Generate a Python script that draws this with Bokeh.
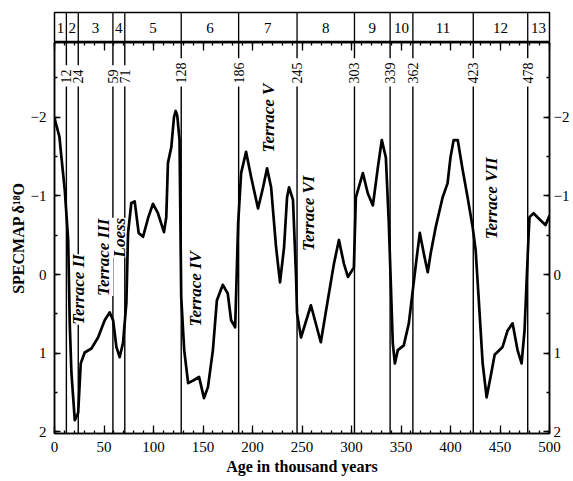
import numpy as np
from bokeh.plotting import figure
from bokeh.models import Range1d, LinearAxis, SingleIntervalTicker, CustomJSTickFormatter
from bokeh.layouts import column
from bokeh.core.properties import value
from bokeh.embed import file_html
from bokeh.resources import INLINE

# SPECMAP curve (age in ka, delta 18O)
age = [0, 5, 7, 10.4, 13.8, 15.4, 17.1, 20.5, 23.9, 26.5, 30.5, 37.3, 44, 50.7, 55.7, 59.2,
       62.5, 65.8, 69.2, 72.6, 74.3, 77.6, 81, 85, 89.4, 94.8, 99.5, 104.5, 110.6, 112.9,
       114.6, 118, 120.7, 122.4, 124, 126.3, 128, 131, 135, 141, 146, 151, 155, 160, 164, 170,
       175, 178.4, 182.5, 185.5, 188.5, 193.5, 198.6, 205.6, 210.7, 214.7, 218.8, 223.8,
       227.8, 231.9, 234.9, 236.9, 240.9, 244, 245, 249, 259, 269, 276, 282.3, 287.3,
       292.3, 296.4, 302.4, 304.4, 311.5, 316.5, 321.6, 326.6, 330.6, 334.7, 337.7, 341.7,
       343.8, 346.8, 352.8, 357.9, 361.9, 365.9, 369, 373, 377, 380, 385, 392, 397, 400,
       403.2, 407.3, 412.3, 417.3, 422.4, 425.4, 428.4, 432.5, 436.5, 440.5, 444.6, 452.6,
       457.7, 462.7, 467.7, 471.8, 474.8, 476.8, 478.8, 479.8, 483.9, 490.9, 496, 500]
d18o = [-1.99, -1.75, -1.49, -1.07, -0.44, 0.62, 1.25, 1.85, 1.76, 1.13, 0.99, 0.94, 0.80, 0.58,
        0.48, 0.58, 0.92, 1.05, 0.87, 0.36, -0.53, -0.91, -0.93, -0.53, -0.48, -0.73, -0.90,
        -0.78, -0.54, -0.73, -1.42, -1.62, -2.0, -2.08, -2.02, -1.71, 0.29, 0.96, 1.38, 1.34, 1.30,
        1.57, 1.43, 0.96, 0.33, 0.13, 0.24, 0.58, 0.67, -0.65, -1.29, -1.56, -1.24, -0.84,
        -1.11, -1.35, -1.11, -0.35, 0.10, -0.35, -0.98, -1.11, -0.95, 0.03, 0.49, 0.80, 0.39,
        0.86, 0.33, -0.14, -0.44, -0.14, 0.03, -0.09, -0.98, -1.29, -1.03, -0.88, -1.36,
        -1.71, -1.49, -0.65, 0.87, 1.13, 0.96, 0.90, 0.62, 0.20, -0.22, -0.53, -0.27, -0.03,
        -0.27, -0.60, -0.98, -1.16, -1.49, -1.71, -1.71, -1.33, -0.98, -0.60, -0.31, 0.29,
        1.13, 1.56, 1.30, 1.02, 0.92, 0.71, 0.62, 0.96, 1.13, 0.71, 0.11, -0.48, -0.73, -0.78,
        -0.69, -0.63, -0.75]

# stage boundaries (ka) and marine isotope stages
boundaries = [12, 24, 59, 71, 128, 186, 245, 303, 339, 362, 423, 478]
boundary_labels = ["12", "24", "59", "71", "128", "186", "245", "303", "339", "362", "423", "478"]
stage_names = ["1", "2", "3", "4", "5", "6", "7", "8", "9", "10", "11", "12", "13"]

# terrace annotations
terrace_names = ["Terrace II", "Terrace III", "Loess", "Terrace IV", "Terrace V", "Terrace VI", "Terrace VII"]
terrace_age = [24.2, 49.9, 65.5, 142, 215.7, 256.6, 441.5]
terrace_d18o = [0.19, -0.22, -0.47, 0.18, -1.99, -0.78, -0.97]

X0, X1 = 0, 500
Y_BOT, Y_TOP = 2.02, -2.95
SERIF = value("Liberation Serif")

W = 572
L_BORDER, R_BORDER = 54, 23

# ---------------- stage band ----------------
edges = [X0] + boundaries + [X1]
stage_mid = [(a + b) / 2 for a, b in zip(edges[:-1], edges[1:])]

xr = Range1d(X0, X1)
band = figure(width=W, height=42, x_range=xr, y_range=Range1d(0, 1),
              x_axis_type=None, y_axis_type=None, output_backend="svg",
              toolbar_location=None, min_border_left=L_BORDER, min_border_right=R_BORDER,
              min_border_top=12, min_border_bottom=0)
band.grid.visible = False
band.outline_line_color = "black"
band.outline_line_width = 1.5
band.segment(x0=boundaries, y0=[0] * len(boundaries), x1=boundaries, y1=[1] * len(boundaries),
             line_color="black", line_width=1.3)
band.text(x=stage_mid, y=[0.5] * len(stage_mid), text=stage_names, text_align="center",
          text_baseline="middle", text_font=SERIF, text_font_size="15px", text_color="black")

# ---------------- main plot ----------------
p = figure(width=W, height=438, x_range=xr, y_range=Range1d(Y_BOT, Y_TOP),
           output_backend="svg", toolbar_location=None,
           min_border_left=L_BORDER, min_border_right=R_BORDER, min_border_top=0,
           min_border_bottom=47)
p.grid.visible = False
p.outline_line_color = "black"
p.outline_line_width = 1.5
p.background_fill_color = "white"
p.border_fill_color = "white"

# vertical stage lines, interrupted by their labels
lab_y = -2.43
seg_x, seg_y0, seg_y1 = [], [], []
for b, lab in zip(boundaries, boundary_labels):
    seg_x += [b, b]
    seg_y0 += [Y_TOP, lab_y + 0.04]
    seg_y1 += [lab_y - len(lab) * 0.09 - 0.05, Y_BOT]
p.segment(x0=seg_x, y0=seg_y0, x1=seg_x, y1=seg_y1, line_color="black", line_width=1.4)
p.text(x=boundaries, y=[lab_y] * len(boundaries), text=boundary_labels, angle=np.pi / 2,
       text_align="left", text_baseline="middle", text_font=SERIF, text_font_size="14px",
       text_color="black")

# terrace labels
p.text(x=terrace_age, y=terrace_d18o, text=terrace_names, angle=np.pi / 2,
       text_align="center", text_baseline="middle", text_font=SERIF,
       text_font_style="bold italic", text_font_size="17px", text_color="black",
       background_fill_color="white")

# curve
p.line(age, d18o, line_color="black", line_width=2.7, line_join="round")

# axes
def style_axis(ax):
    ax.axis_line_color = "black"
    ax.axis_line_width = 1.5
    ax.major_tick_in = 6
    ax.major_tick_out = 0
    ax.minor_tick_in = 3
    ax.minor_tick_out = 0
    ax.major_tick_line_color = "black"
    ax.minor_tick_line_color = "black"
    ax.major_tick_line_width = 1.3
    ax.minor_tick_line_width = 1.3
    ax.major_label_text_font = "Liberation Serif"
    ax.major_label_text_font_size = "15px"
    ax.major_label_text_color = "black"

xt = SingleIntervalTicker(interval=50, num_minor_ticks=5)
yt = SingleIntervalTicker(interval=1, num_minor_ticks=2)

p.xaxis.ticker = xt
p.yaxis.ticker = yt
style_axis(p.xaxis[0])
style_axis(p.yaxis[0])
p.xaxis.major_tick_in = 8
p.xaxis.major_label_standoff = 8
p.yaxis.major_label_standoff = 8

p.xaxis.axis_label = "Age in thousand years"
p.yaxis.axis_label = "SPECMAP δ¹⁸O"
for ax in (p.xaxis[0], p.yaxis[0]):
    ax.axis_label_text_font = "Liberation Serif"
    ax.axis_label_text_font_style = "bold"
    ax.axis_label_text_font_size = "16px"
    ax.axis_label_text_color = "black"
p.xaxis.axis_label_standoff = 3
p.yaxis.axis_label_standoff = 1

right = LinearAxis(ticker=yt)
style_axis(right)
right.major_label_standoff = 4
p.add_layout(right, "right")

top = LinearAxis(ticker=xt, formatter=CustomJSTickFormatter(code="return ''"))
style_axis(top)
top.major_tick_in = 8
top.major_label_standoff = 0
top.major_label_text_font_size = "0px"
p.add_layout(top, "above")

layout = column(band, p, spacing=0)
open("out.html", "w").write(file_html(layout, INLINE))
